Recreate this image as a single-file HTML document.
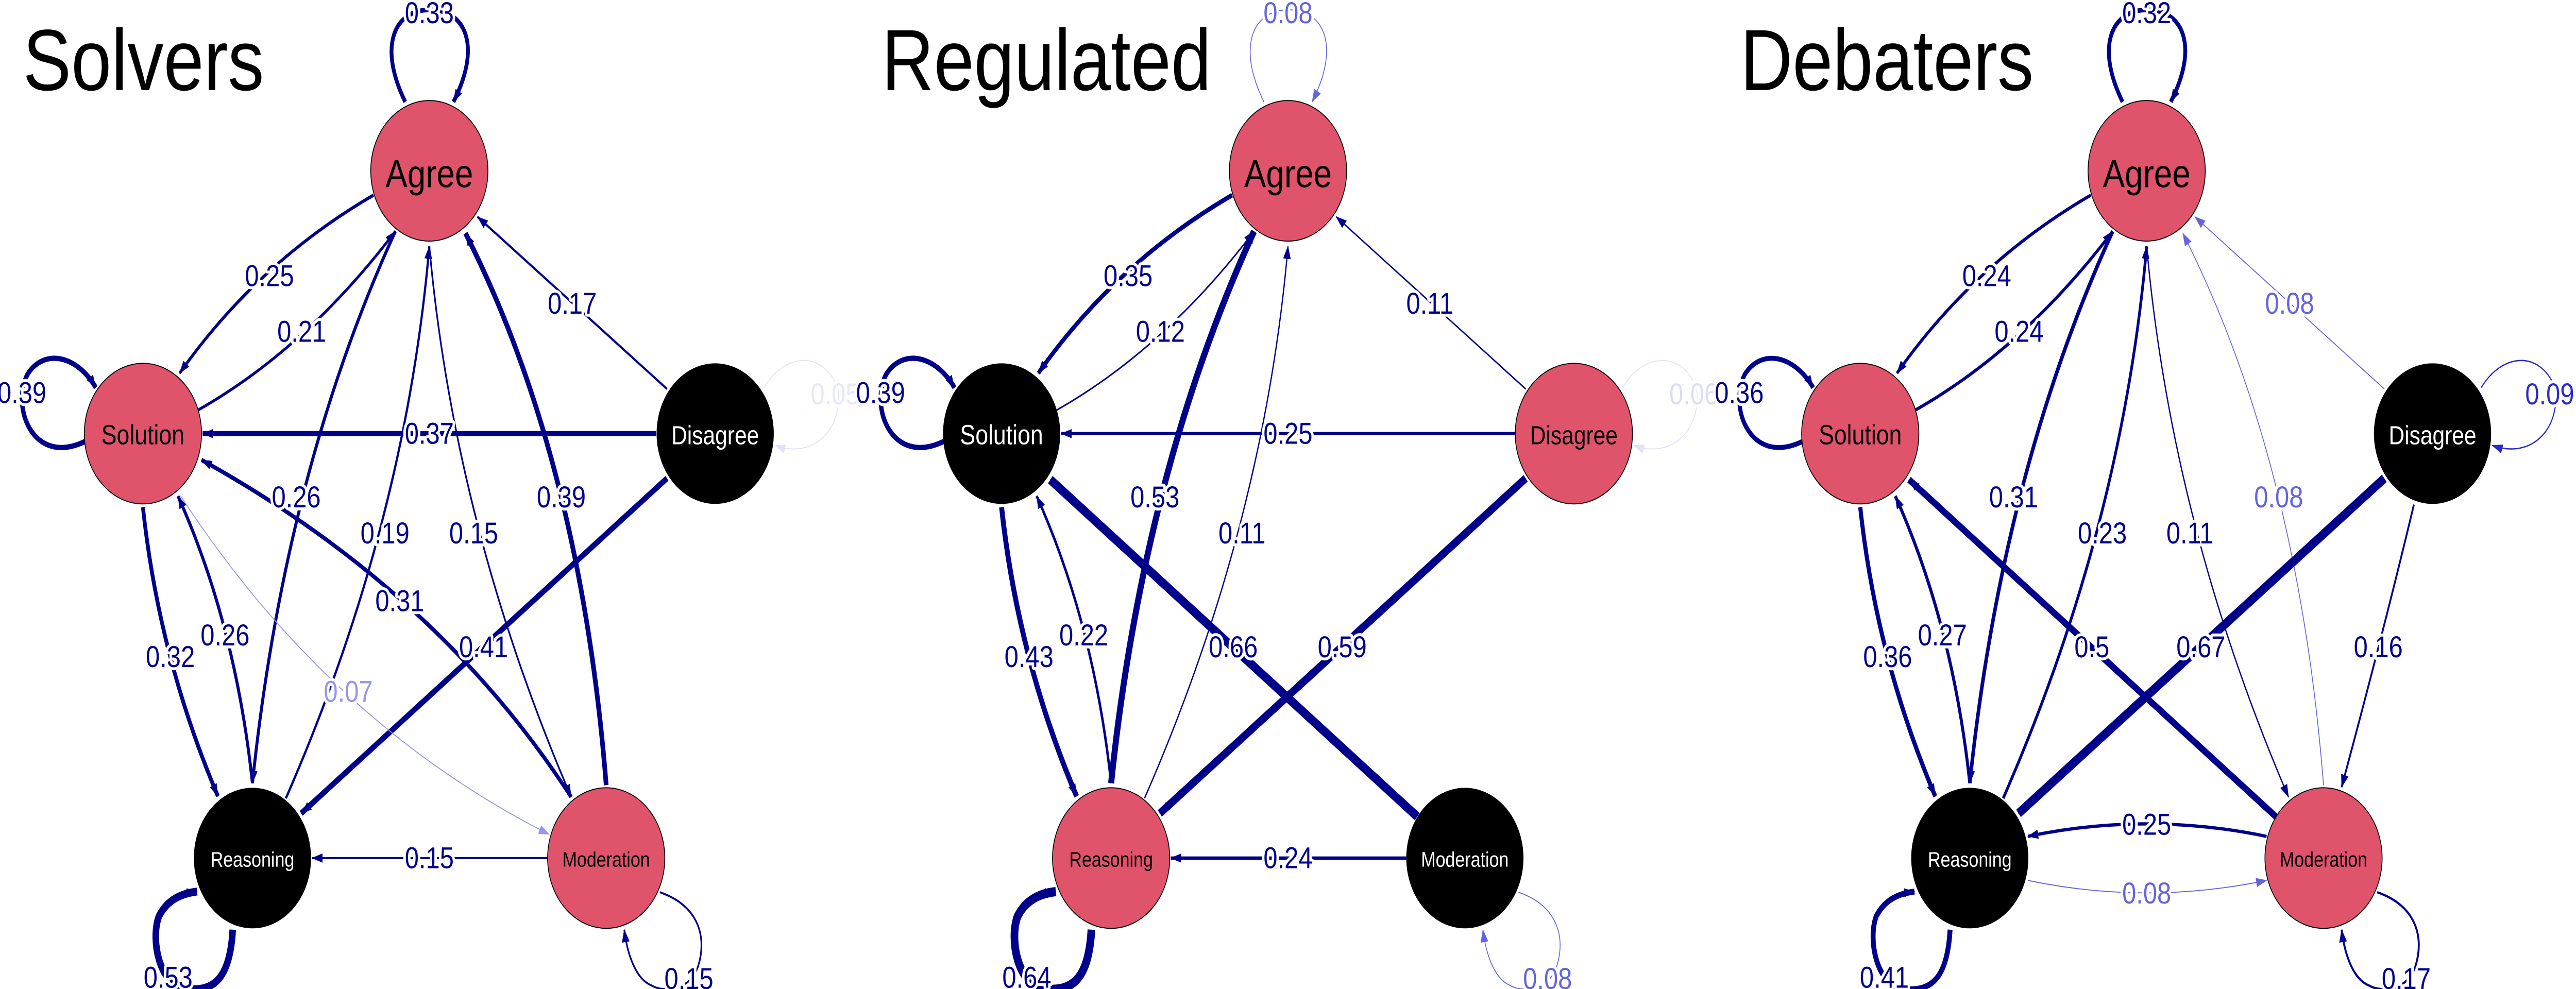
<!DOCTYPE html>
<html><head><meta charset="utf-8">
<style>
html,body{margin:0;padding:0;background:#fff;width:100%;height:100%;overflow:hidden;}
svg{display:block;position:absolute;left:0;top:0;}
text{font-family:"Liberation Sans",sans-serif;}
.el{font-size:46px;text-anchor:middle;dominant-baseline:central;paint-order:stroke;stroke:#fff;stroke-width:9px;stroke-linejoin:round;}
.nl{text-anchor:middle;dominant-baseline:central;}
.t{font-size:132px;fill:#000;}
</style></head>
<body>
<svg width="100%" height="100%" viewBox="0 0 6000 1920" preserveAspectRatio="none" xmlns="http://www.w3.org/2000/svg" overflow="hidden">
<defs>
<marker id="md" markerUnits="userSpaceOnUse" markerWidth="20" markerHeight="16" viewBox="0 0 20 16" refX="19" refY="8" orient="auto"><path d="M0,1 L20,8 L0,15 z" fill="#00008B"/></marker>
<marker id="ml" markerUnits="userSpaceOnUse" markerWidth="20" markerHeight="16" viewBox="0 0 20 16" refX="19" refY="8" orient="auto"><path d="M0,1 L20,8 L0,15 z" fill="#6464DC"/></marker>
<marker id="mv" markerUnits="userSpaceOnUse" markerWidth="20" markerHeight="16" viewBox="0 0 20 16" refX="19" refY="8" orient="auto"><path d="M0,1 L20,8 L0,15 z" fill="#9696E8"/></marker>
<marker id="mf" markerUnits="userSpaceOnUse" markerWidth="20" markerHeight="16" viewBox="0 0 20 16" refX="19" refY="8" orient="auto"><path d="M0,1 L20,8 L0,15 z" fill="#E2E2F6"/></marker>
<marker id="mm" markerUnits="userSpaceOnUse" markerWidth="20" markerHeight="16" viewBox="0 0 20 16" refX="19" refY="8" orient="auto"><path d="M0,1 L20,8 L0,15 z" fill="#2A2ACC"/></marker>
</defs>

<!-- ================= PANEL 1: Solvers ================= -->
<g transform="translate(0,0) scale(1.2755)" fill="none">
<text x="42" y="137" class="t">Solvers</text>
<g fill="none" stroke="#00008B">
<path d="M740,155 C690,70 720,15 785,15 C850,15 880,70 828,155" stroke-width="7" marker-end="url(#md)"/>
<path d="M155,672 C60,710 20,620 50,570 C80,530 140,540 175,590" stroke-width="8" marker-end="url(#md)"/>
<path d="M425,1415 C420,1490 390,1510 340,1505 C290,1500 275,1430 290,1395 C305,1370 330,1360 360,1357" stroke-width="12" marker-end="url(#md)"/>
<path d="M1205,1358 C1280,1380 1290,1430 1275,1470 C1260,1510 1210,1510 1190,1500 C1160,1490 1145,1450 1140,1415" stroke-width="3" marker-end="url(#md)"/>
<path d="M1395,590 C1430,540 1500,530 1530,590 C1540,650 1490,700 1415,678" stroke-width="1.5" stroke="#E2E2F6" marker-end="url(#mf)"/>
<path d="M682,297 Q470,400 328,568" stroke-width="5" marker-end="url(#md)"/>
<path d="M362,624 Q560,530 722,352" stroke-width="4.5" marker-end="url(#md)"/>
<path d="M1218,592 L872,330" stroke-width="3.5" marker-end="url(#md)"/>
<path d="M1198,660 L370,660" stroke-width="8" marker-end="url(#md)"/>
<path d="M722,352 Q520,720 461,1192" stroke-width="5.5" marker-end="url(#md)"/>
<path d="M522,1215 Q740,800 784,375" stroke-width="4" marker-end="url(#md)"/>
<path d="M784,375 Q830,800 1043,1213" stroke-width="3" marker-end="url(#md)"/>
<path d="M1107,1195 Q1060,700 850,355" stroke-width="8.5" marker-end="url(#md)"/>
<path d="M1043,1213 Q800,900 368,700" stroke-width="6.5" marker-end="url(#md)"/>
<path d="M1218,728 L550,1238" stroke-width="9" marker-end="url(#md)"/>
<path d="M261,772 Q290,1000 398,1212" stroke-width="7" marker-end="url(#md)"/>
<path d="M461,1192 Q430,950 325,755" stroke-width="5.5" marker-end="url(#md)"/>
<path d="M330,755 Q600,1100 1003,1270" stroke-width="1.5" stroke="#9696E8" marker-end="url(#mv)"/>
<path d="M1000,1306 L570,1306" stroke-width="3" marker-end="url(#md)"/>
</g>
<g fill="#00008B">
<text class="el" x="784" y="20">0.33</text>
<text class="el" x="40" y="598">0.39</text>
<text class="el" x="307" y="1488">0.53</text>
<text class="el" x="1258" y="1490">0.15</text>
<text class="el" x="1525" y="600" fill="#E8E8F8" stroke="none">0.05</text>
<text class="el" x="492" y="420">0.25</text>
<text class="el" x="551" y="505">0.21</text>
<text class="el" x="1045" y="462">0.17</text>
<text class="el" x="784" y="660">0.37</text>
<text class="el" x="541" y="757">0.26</text>
<text class="el" x="703" y="812">0.19</text>
<text class="el" x="865" y="812">0.15</text>
<text class="el" x="1025" y="757">0.39</text>
<text class="el" x="730" y="915">0.31</text>
<text class="el" x="883" y="985">0.41</text>
<text class="el" x="311" y="1000">0.32</text>
<text class="el" x="411" y="967">0.26</text>
<text class="el" x="636" y="1053" fill="#9696E8">0.07</text>
<text class="el" x="784" y="1306">0.15</text>
</g>
<circle cx="784" cy="260" r="107" fill="#DF536B" stroke="#000" stroke-width="1.5"/>
<circle cx="261" cy="660" r="107" fill="#DF536B" stroke="#000" stroke-width="1.5"/>
<circle cx="1306" cy="660" r="107" fill="#000"/>
<circle cx="461" cy="1306" r="107" fill="#000"/>
<circle cx="1107" cy="1306" r="107" fill="#DF536B" stroke="#000" stroke-width="1.5"/>
<text class="nl" x="784" y="264" font-size="60" fill="#000">Agree</text>
<text class="nl" x="261" y="662" font-size="42" fill="#000">Solution</text>
<text class="nl" x="1306" y="662" font-size="40" fill="#fff">Disagree</text>
<text class="nl" x="461" y="1308" font-size="32" fill="#fff">Reasoning</text>
<text class="nl" x="1107" y="1308" font-size="32" fill="#000">Moderation</text>
</g>

<!-- ================= PANEL 2: Regulated ================= -->
<g transform="translate(2000,0) scale(1.2755)" fill="none">
<text x="42" y="137" class="t">Regulated</text>
<g fill="none" stroke="#00008B">
<path d="M740,155 C690,70 720,15 785,15 C850,15 880,70 828,155" stroke-width="1.5" stroke="#6464DC" marker-end="url(#ml)"/>
<path d="M155,672 C60,710 20,620 50,570 C80,530 140,540 175,590" stroke-width="8" marker-end="url(#md)"/>
<path d="M425,1415 C420,1490 390,1510 340,1505 C290,1500 275,1430 290,1395 C305,1370 330,1360 360,1357" stroke-width="14" marker-end="url(#md)"/>
<path d="M1205,1358 C1280,1380 1290,1430 1275,1470 C1260,1510 1210,1510 1190,1500 C1160,1490 1145,1450 1140,1415" stroke-width="1.5" stroke="#6464DC" marker-end="url(#ml)"/>
<path d="M1395,590 C1430,540 1500,530 1530,590 C1540,650 1490,700 1415,678" stroke-width="1.5" stroke="#E2E2F6" marker-end="url(#mf)"/>
<path d="M682,297 Q470,400 328,568" stroke-width="7" marker-end="url(#md)"/>
<path d="M362,624 Q560,530 722,352" stroke-width="2.5" marker-end="url(#md)"/>
<path d="M1218,592 L872,330" stroke-width="2.3" marker-end="url(#md)"/>
<path d="M1198,660 L370,660" stroke-width="5" marker-end="url(#md)"/>
<path d="M461,1192 Q520,720 722,352" stroke-width="11" marker-end="url(#md)"/>
<path d="M522,1215 Q740,800 784,375" stroke-width="2.3" marker-end="url(#md)"/>
<path d="M1020,1243 L350,730" stroke-width="14" marker-end="url(#md)"/>
<path d="M1218,728 L550,1238" stroke-width="12.5" marker-end="url(#md)"/>
<path d="M261,772 Q290,1000 398,1212" stroke-width="9" marker-end="url(#md)"/>
<path d="M461,1192 Q430,950 325,755" stroke-width="4.5" marker-end="url(#md)"/>
<path d="M1000,1306 L570,1306" stroke-width="5" marker-end="url(#md)"/>
</g>
<g fill="#00008B">
<text class="el" x="784" y="20" fill="#6464DC">0.08</text>
<text class="el" x="40" y="598">0.39</text>
<text class="el" x="307" y="1488">0.64</text>
<text class="el" x="1258" y="1490" fill="#6464DC">0.08</text>
<text class="el" x="1525" y="600" fill="#DCDCF4" stroke="none">0.06</text>
<text class="el" x="492" y="420">0.35</text>
<text class="el" x="551" y="505">0.12</text>
<text class="el" x="1043" y="462">0.11</text>
<text class="el" x="784" y="660">0.25</text>
<text class="el" x="541" y="757">0.53</text>
<text class="el" x="700" y="812">0.11</text>
<text class="el" x="684" y="985">0.66</text>
<text class="el" x="883" y="985">0.59</text>
<text class="el" x="311" y="1000">0.43</text>
<text class="el" x="411" y="967">0.22</text>
<text class="el" x="784" y="1306">0.24</text>
</g>
<circle cx="784" cy="260" r="107" fill="#DF536B" stroke="#000" stroke-width="1.5"/>
<circle cx="261" cy="660" r="107" fill="#000"/>
<circle cx="1306" cy="660" r="107" fill="#DF536B" stroke="#000" stroke-width="1.5"/>
<circle cx="461" cy="1306" r="107" fill="#DF536B" stroke="#000" stroke-width="1.5"/>
<circle cx="1107" cy="1306" r="107" fill="#000"/>
<text class="nl" x="784" y="264" font-size="60" fill="#000">Agree</text>
<text class="nl" x="261" y="662" font-size="42" fill="#fff">Solution</text>
<text class="nl" x="1306" y="662" font-size="40" fill="#000">Disagree</text>
<text class="nl" x="461" y="1308" font-size="32" fill="#000">Reasoning</text>
<text class="nl" x="1107" y="1308" font-size="32" fill="#fff">Moderation</text>
</g>

<!-- ================= PANEL 3: Debaters ================= -->
<g transform="translate(4000,0) scale(1.2755)" fill="none">
<text x="42" y="137" class="t">Debaters</text>
<g fill="none" stroke="#00008B">
<path d="M740,155 C690,70 720,15 785,15 C850,15 880,70 828,155" stroke-width="7" marker-end="url(#md)"/>
<path d="M155,672 C60,710 20,620 50,570 C80,530 140,540 175,590" stroke-width="7.5" marker-end="url(#md)"/>
<path d="M425,1415 C420,1490 390,1510 340,1505 C290,1500 275,1430 290,1395 C305,1370 330,1360 360,1357" stroke-width="9" marker-end="url(#md)"/>
<path d="M1205,1358 C1280,1380 1290,1430 1275,1470 C1260,1510 1210,1510 1190,1500 C1160,1490 1145,1450 1140,1415" stroke-width="3.5" marker-end="url(#md)"/>
<path d="M1395,590 C1430,540 1500,530 1530,590 C1540,650 1490,700 1415,678" stroke-width="2" stroke="#2A2ACC" marker-end="url(#mm)"/>
<path d="M682,297 Q470,400 328,568" stroke-width="5" marker-end="url(#md)"/>
<path d="M362,624 Q560,530 722,352" stroke-width="5" marker-end="url(#md)"/>
<path d="M1218,592 L872,330" stroke-width="1.5" stroke="#6464DC" marker-end="url(#ml)"/>
<path d="M722,352 Q520,720 461,1192" stroke-width="6.5" marker-end="url(#md)"/>
<path d="M522,1215 Q740,800 784,375" stroke-width="5" marker-end="url(#md)"/>
<path d="M784,375 Q830,800 1043,1213" stroke-width="2.3" marker-end="url(#md)"/>
<path d="M1107,1195 Q1060,700 850,355" stroke-width="1.5" stroke="#6464DC" marker-end="url(#ml)"/>
<path d="M1020,1243 L350,730" stroke-width="10.5" marker-end="url(#md)"/>
<path d="M1218,728 L550,1238" stroke-width="14" marker-end="url(#md)"/>
<path d="M1272,768 Q1220,950 1140,1198" stroke-width="3.3" marker-end="url(#md)"/>
<path d="M261,772 Q290,1000 398,1212" stroke-width="7.5" marker-end="url(#md)"/>
<path d="M461,1192 Q430,950 325,755" stroke-width="5.5" marker-end="url(#md)"/>
<path d="M1003,1273 Q784,1235 567,1273" stroke-width="5" marker-end="url(#md)"/>
<path d="M567,1340 Q784,1378 1003,1340" stroke-width="1.5" stroke="#6464DC" marker-end="url(#ml)"/>
</g>
<g fill="#00008B">
<text class="el" x="784" y="20">0.32</text>
<text class="el" x="40" y="598">0.36</text>
<text class="el" x="305" y="1488">0.41</text>
<text class="el" x="1258" y="1490">0.17</text>
<text class="el" x="1520" y="600" fill="#2A2ACC">0.09</text>
<text class="el" x="492" y="420">0.24</text>
<text class="el" x="551" y="505">0.24</text>
<text class="el" x="1045" y="462" fill="#6464DC">0.08</text>
<text class="el" x="541" y="757">0.31</text>
<text class="el" x="703" y="812">0.23</text>
<text class="el" x="863" y="812">0.11</text>
<text class="el" x="1025" y="757" fill="#6464DC">0.08</text>
<text class="el" x="684" y="985">0.5</text>
<text class="el" x="883" y="985">0.67</text>
<text class="el" x="1207" y="985">0.16</text>
<text class="el" x="311" y="1000">0.36</text>
<text class="el" x="411" y="967">0.27</text>
<text class="el" x="784" y="1255">0.25</text>
<text class="el" x="784" y="1360" fill="#6464DC">0.08</text>
</g>
<circle cx="784" cy="260" r="107" fill="#DF536B" stroke="#000" stroke-width="1.5"/>
<circle cx="261" cy="660" r="107" fill="#DF536B" stroke="#000" stroke-width="1.5"/>
<circle cx="1306" cy="660" r="107" fill="#000"/>
<circle cx="461" cy="1306" r="107" fill="#000"/>
<circle cx="1107" cy="1306" r="107" fill="#DF536B" stroke="#000" stroke-width="1.5"/>
<text class="nl" x="784" y="264" font-size="60" fill="#000">Agree</text>
<text class="nl" x="261" y="662" font-size="42" fill="#000">Solution</text>
<text class="nl" x="1306" y="662" font-size="40" fill="#fff">Disagree</text>
<text class="nl" x="461" y="1308" font-size="32" fill="#fff">Reasoning</text>
<text class="nl" x="1107" y="1308" font-size="32" fill="#000">Moderation</text>
</g>
</svg>
</body></html>
